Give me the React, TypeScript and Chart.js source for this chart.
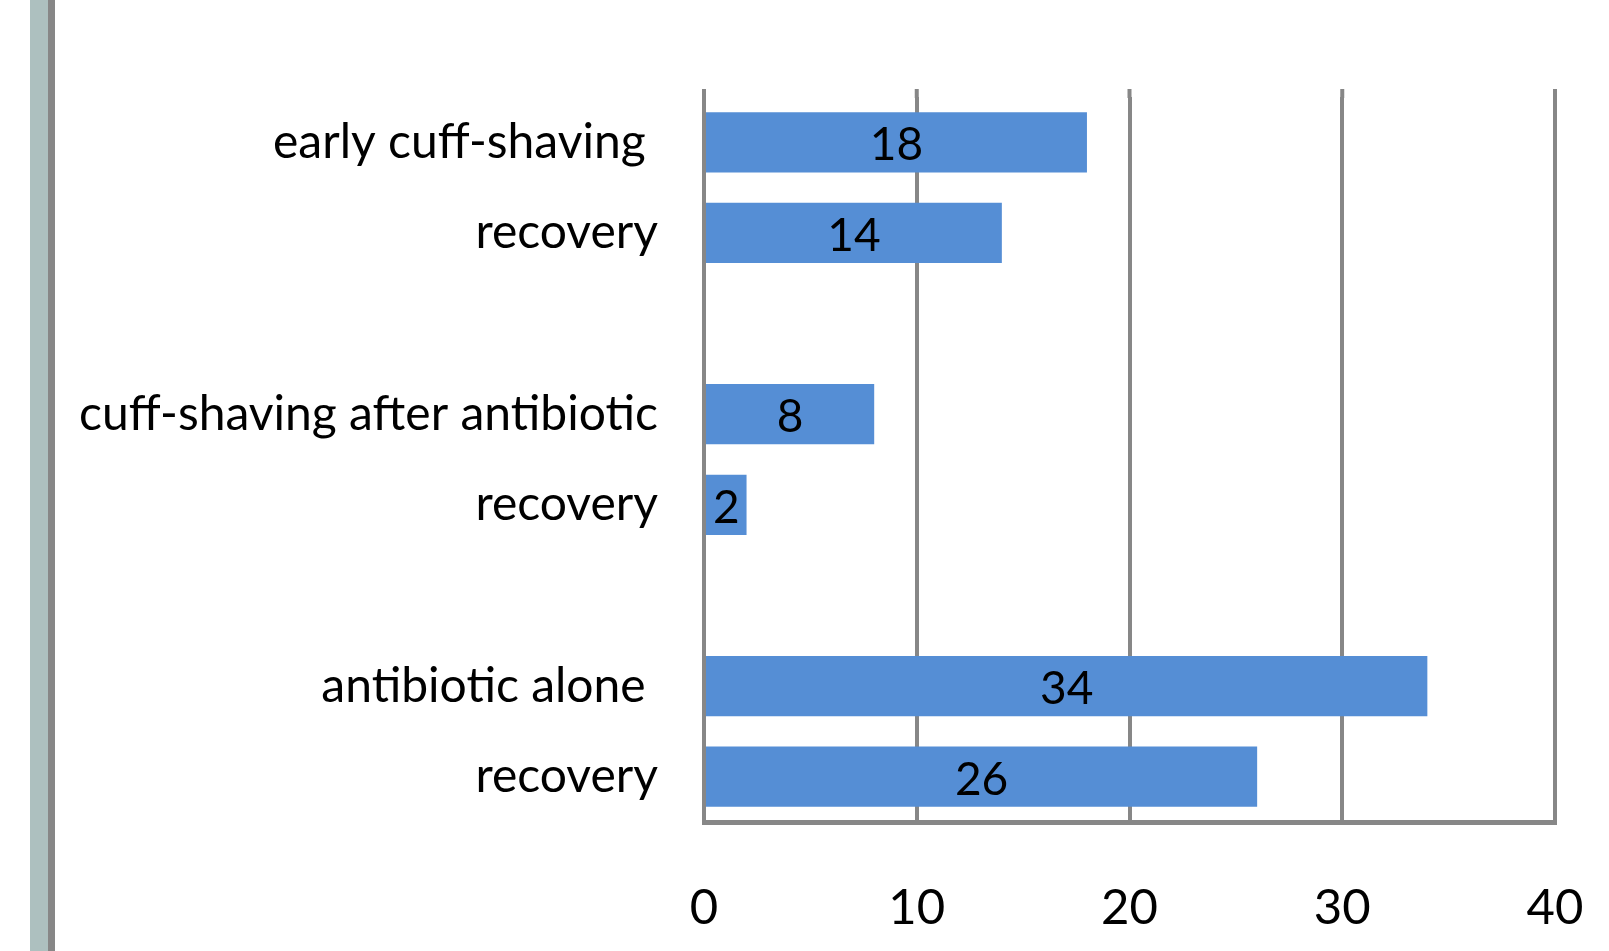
import React, { useEffect, useRef } from "react";
import { Chart, registerables } from "chart.js";

Chart.register(...registerables);

const categories: string[] = [
  "early cuff-shaving ",
  "recovery",
  "",
  "cuff-shaving after antibiotic",
  "recovery",
  "",
  "antibiotic alone ",
  "recovery",
];
const counts: (number | null)[] = [18, 14, null, 8, 2, null, 34, 26];
const xTicks: number[] = [0, 10, 20, 30, 40];

const FONT = "Lato";
const BAR_COLOR = "#558ed5";
const GRID_COLOR = "#878787";

const decorPlugin = {
  id: "decor",
  beforeDraw(chart: any) {
    const ctx = chart.ctx;
    ctx.save();
    ctx.fillStyle = "#ffffff";
    ctx.fillRect(0, 0, chart.width, chart.height);
    ctx.fillStyle = "#adc0bf";
    ctx.fillRect(30, 0, 18, chart.height);
    ctx.fillStyle = "#878787";
    ctx.fillRect(48, 0, 7, chart.height);
    ctx.restore();
  },
  beforeDatasetsDraw(chart: any) {
    const ctx = chart.ctx;
    const xs = chart.scales.x;
    const top = chart.chartArea.top;
    ctx.save();
    ctx.strokeStyle = GRID_COLOR;
    ctx.lineWidth = 4;
    xTicks.forEach((v) => {
      const px = xs.getPixelForValue(v);
      ctx.beginPath();
      ctx.moveTo(px, top - 8);
      ctx.lineTo(px, top + 1);
      ctx.stroke();
    });
    ctx.restore();
  },
  afterDatasetsDraw(chart: any) {
    const ctx = chart.ctx;
    const meta = chart.getDatasetMeta(0);
    ctx.save();
    ctx.fillStyle = "#000000";
    ctx.font = `46px ${FONT}`;
    ctx.textAlign = "center";
    ctx.textBaseline = "middle";
    meta.data.forEach((bar: any, i: number) => {
      const v = counts[i];
      if (v === null || v === undefined) return;
      const cx = (bar.x + bar.base) / 2;
      ctx.fillText(String(v), cx, bar.y + 3);
    });
    ctx.restore();
  },
};

export default function App() {
  const ref = useRef<HTMLCanvasElement | null>(null);

  useEffect(() => {
    if (!ref.current) return;
    const chart = new Chart(ref.current, {
      type: "bar",
      data: {
        labels: categories,
        datasets: [
          {
            data: counts,
            backgroundColor: BAR_COLOR,
            borderWidth: 0,
            categoryPercentage: 1,
            barPercentage: 0.664,
          },
        ],
      },
      options: {
        indexAxis: "y",
        animation: false,
        responsive: false,
        devicePixelRatio: 1,
        layout: { padding: { top: 97, right: 54, left: 0, bottom: 0 } },
        plugins: {
          legend: { display: false },
          title: { display: false },
          tooltip: { enabled: false },
        },
        scales: {
          x: {
            min: 0,
            max: 40,
            afterBuildTicks: (scale: any) => {
              scale.ticks = xTicks.map((v) => ({ value: v }));
            },
            afterFit: (scale: any) => {
              scale.height = 951 - 822;
              scale.paddingLeft = 0;
              scale.paddingRight = 0;
            },
            grid: {
              display: true,
              color: GRID_COLOR,
              lineWidth: 4,
              drawTicks: false,
            },
            border: { display: true, color: GRID_COLOR, width: 5 },
            ticks: {
              padding: 57,
              color: "#000000",
              font: { family: FONT, size: 49 },
            },
          },
          y: {
            afterFit: (scale: any) => {
              scale.width = 704;
            },
            grid: { display: false, drawTicks: false },
            border: { display: true, color: GRID_COLOR, width: 4 },
            ticks: {
              padding: 46,
              color: "#000000",
              autoSkip: false,
              font: { family: FONT, size: 48 },
            },
          },
        },
      },
      plugins: [decorPlugin],
    });
    return () => chart.destroy();
  }, []);

  return (
    <div
      style={{
        position: "absolute",
        left: 0,
        top: 0,
        width: 1609,
        height: 951,
        background: "#fff",
        overflow: "hidden",
      }}
    >
      <canvas ref={ref} width={1609} height={951} style={{ display: "block" }} />
    </div>
  );
}
